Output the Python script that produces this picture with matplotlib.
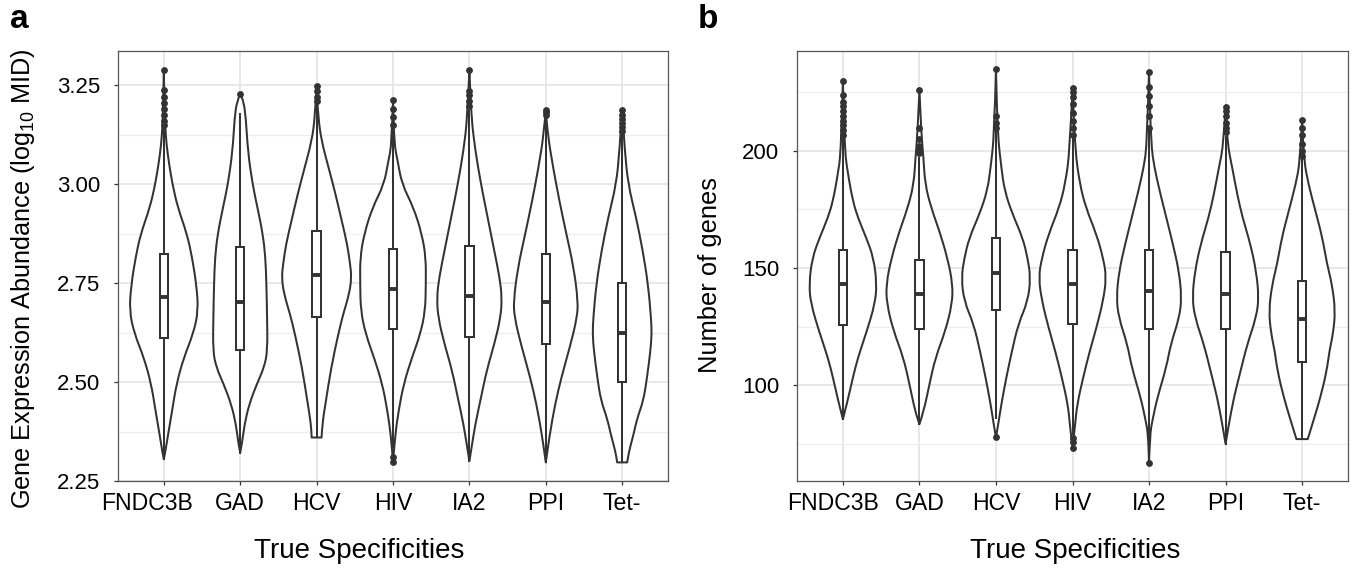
import matplotlib
matplotlib.use('Agg')
import matplotlib.pyplot as plt
from matplotlib.path import Path
from matplotlib.patches import PathPatch
from matplotlib.transforms import ScaledTranslation

plt.rcParams['font.family'] = ['Liberation Sans', 'DejaVu Sans']
plt.rcParams['mathtext.fontset'] = 'custom'
plt.rcParams['mathtext.rm'] = 'Liberation Sans'
plt.rcParams['mathtext.it'] = 'Liberation Sans:italic'

categories = ['FNDC3B', 'GAD', 'HCV', 'HIV', 'IA2', 'PPI', 'Tet-']

# ---------------- Panel a: gene expression abundance (log10 MID) ----------------
a_q1 = [2.612, 2.582, 2.665, 2.634, 2.613, 2.596, 2.501]
a_med = [2.714, 2.703, 2.770, 2.736, 2.718, 2.702, 2.624]
a_q3 = [2.823, 2.841, 2.883, 2.837, 2.843, 2.825, 2.750]
a_whislo = [2.305, 2.322, 2.360, 2.335, 2.300, 2.297, 2.297]
a_whishi = [3.140, 3.178, 3.200, 3.140, 3.185, 3.165, 3.125]
a_fliers = [
    [3.150, 3.160, 3.175, 3.190, 3.205, 3.220, 3.238, 3.288],
    [3.229],
    [3.210, 3.220, 3.235, 3.248],
    [2.299, 2.310, 3.150, 3.170, 3.190, 3.212],
    [3.198, 3.210, 3.225, 3.236, 3.289],
    [3.175, 3.182, 3.189],
    [3.135, 3.145, 3.155, 3.165, 3.175, 3.189],
]
# violin outline: value levels and half-widths (category units)
a_viol_y = [
    [2.305, 2.327, 2.369, 2.428, 2.495, 2.562, 2.621, 2.680, 2.747, 2.815, 2.874, 2.941, 3.000, 3.050, 3.100, 3.150, 3.200, 3.288],
    [2.322, 2.343, 2.394, 2.444, 2.495, 2.537, 2.579, 2.663, 2.747, 2.815, 2.874, 2.941, 3.000, 3.084, 3.168, 3.210, 3.229],
    [2.360, 2.394, 2.453, 2.537, 2.621, 2.672, 2.722, 2.764, 2.798, 2.849, 2.907, 2.975, 3.042, 3.109, 3.168, 3.248],
    [2.299, 2.369, 2.428, 2.495, 2.562, 2.621, 2.680, 2.747, 2.815, 2.874, 2.941, 3.000, 3.059, 3.101, 3.212],
    [2.300, 2.343, 2.394, 2.461, 2.529, 2.596, 2.663, 2.714, 2.764, 2.832, 2.916, 3.000, 3.084, 3.168, 3.289],
    [2.297, 2.369, 2.444, 2.512, 2.596, 2.663, 2.705, 2.790, 2.874, 2.958, 3.042, 3.126, 3.189],
    [2.297, 2.327, 2.360, 2.411, 2.453, 2.512, 2.579, 2.621, 2.663, 2.747, 2.832, 2.916, 3.000, 3.084, 3.189],
]
a_viol_hw = [
    [0.000, 0.022, 0.057, 0.109, 0.165, 0.261, 0.383, 0.452, 0.426, 0.370, 0.304, 0.183, 0.113, 0.070, 0.035, 0.017, 0.009, 0.000],
    [0.000, 0.022, 0.057, 0.117, 0.217, 0.313, 0.357, 0.352, 0.343, 0.330, 0.296, 0.226, 0.161, 0.100, 0.074, 0.043, 0.000],
    [0.065, 0.074, 0.122, 0.191, 0.283, 0.348, 0.426, 0.457, 0.439, 0.400, 0.330, 0.248, 0.157, 0.065, 0.022, 0.000],
    [0.000, 0.030, 0.074, 0.139, 0.248, 0.357, 0.422, 0.430, 0.430, 0.378, 0.270, 0.117, 0.061, 0.017, 0.000],
    [0.000, 0.035, 0.078, 0.152, 0.226, 0.326, 0.409, 0.426, 0.396, 0.326, 0.239, 0.152, 0.078, 0.026, 0.000],
    [0.000, 0.052, 0.122, 0.204, 0.326, 0.409, 0.422, 0.365, 0.270, 0.178, 0.096, 0.026, 0.000],
    [0.065, 0.091, 0.139, 0.200, 0.278, 0.326, 0.370, 0.387, 0.378, 0.339, 0.270, 0.183, 0.078, 0.035, 0.000],
]
a_major = [2.25, 2.50, 2.75, 3.00, 3.25]
a_minor = [2.375, 2.625, 2.875, 3.125]
a_ylim = (2.251, 3.337)

# ---------------- Panel b: number of genes ----------------
b_q1 = [125.7, 124.1, 132.0, 126.0, 123.8, 123.8, 109.8]
b_med = [143.1, 138.9, 148.0, 143.2, 140.2, 138.9, 128.1]
b_q3 = [157.8, 153.5, 162.8, 157.7, 157.7, 157.0, 144.4]
b_whislo = [85.4, 83.3, 86.0, 79.0, 74.0, 75.0, 76.9]
b_whishi = [205.0, 197.0, 208.0, 205.0, 208.0, 206.0, 196.5]
b_fliers = [
    [207, 209, 211, 213, 215, 217, 219, 221, 224, 229.9],
    [199, 200, 201, 202, 205, 210, 225.9],
    [77.6, 210, 212, 215, 234.9],
    [73, 75.5, 77.5, 207, 210, 213, 216, 220, 223, 225, 227],
    [66.9, 210, 215, 219, 223.5, 227.5, 233.9],
    [208, 210, 212, 215, 217, 218.8],
    [198, 200, 203, 207, 210, 213.1],
]
b_viol_y = [
    [85.4, 93.2, 103.2, 111.7, 123.1, 134.5, 143.1, 154.4, 163.0, 171.5, 178.6, 188.6, 200.0, 229.9],
    [83.3, 88.9, 100.3, 111.7, 123.1, 134.5, 143.1, 154.4, 165.8, 175.8, 185.8, 197.2, 207.0, 225.9],
    [77.6, 83.3, 91.8, 103.2, 114.6, 126.0, 135.9, 145.9, 154.4, 163.0, 172.9, 182.9, 192.9, 207.0, 234.9],
    [73.0, 83.3, 91.8, 103.2, 114.6, 124.5, 135.9, 145.9, 154.4, 164.4, 175.8, 185.8, 200.0, 227.0],
    [66.9, 79.0, 84.7, 94.7, 107.5, 117.4, 128.8, 137.4, 148.7, 160.1, 171.5, 182.9, 192.9, 202.8, 233.9],
    [74.9, 83.3, 94.7, 106.0, 117.4, 128.8, 137.4, 148.7, 160.1, 171.5, 181.5, 192.9, 202.8, 218.8],
    [76.9, 86.1, 94.7, 106.0, 114.6, 121.7, 131.7, 143.1, 151.6, 163.0, 174.4, 185.8, 195.7, 213.1],
]
b_viol_hw = [
    [0.000, 0.061, 0.130, 0.196, 0.313, 0.417, 0.443, 0.400, 0.304, 0.196, 0.130, 0.074, 0.022, 0.000],
    [0.000, 0.057, 0.130, 0.209, 0.339, 0.426, 0.435, 0.365, 0.261, 0.152, 0.074, 0.052, 0.026, 0.000],
    [0.000, 0.030, 0.070, 0.135, 0.209, 0.291, 0.417, 0.452, 0.413, 0.348, 0.217, 0.113, 0.070, 0.022, 0.000],
    [0.000, 0.035, 0.061, 0.139, 0.226, 0.313, 0.400, 0.443, 0.400, 0.313, 0.174, 0.096, 0.035, 0.000],
    [0.000, 0.013, 0.043, 0.109, 0.226, 0.283, 0.396, 0.426, 0.391, 0.313, 0.226, 0.139, 0.070, 0.026, 0.000],
    [0.000, 0.043, 0.109, 0.196, 0.283, 0.400, 0.435, 0.400, 0.326, 0.222, 0.152, 0.087, 0.026, 0.000],
    [0.074, 0.161, 0.239, 0.322, 0.357, 0.404, 0.435, 0.391, 0.326, 0.265, 0.174, 0.083, 0.026, 0.000],
]
b_major = [100, 150, 200]
b_minor = [75, 125, 175, 225]
b_ylim = (59.0, 242.7)

INK = '#333333'


def add_smooth(verts, codes, pts):
    """Append a smooth (quadratic Bezier) run through knot list pts (first already placed)."""
    n = len(pts)
    for i in range(1, n - 1):
        mid = ((pts[i][0] + pts[i + 1][0]) / 2.0, (pts[i][1] + pts[i + 1][1]) / 2.0)
        verts += [pts[i], mid]
        codes += [Path.CURVE3, Path.CURVE3]
    verts.append(pts[-1])
    codes.append(Path.LINETO)


def draw_violin(ax, pos, ys, hws):
    right = [(pos + w, y) for y, w in zip(ys, hws)]
    left = [(pos - w, y) for y, w in zip(ys[::-1], hws[::-1])]
    verts = [right[0]]
    codes = [Path.MOVETO]
    add_smooth(verts, codes, right)
    verts.append(left[0])
    codes.append(Path.LINETO)
    add_smooth(verts, codes, left)
    verts.append(right[0])
    codes.append(Path.CLOSEPOLY)
    patch = PathPatch(Path(verts, codes), facecolor='white', edgecolor=INK,
                      lw=1.45, zorder=2, joinstyle='round')
    ax.add_patch(patch)


def draw_panel(fig, ax, q1, med, q3, wlo, whi, fliers, vy, vhw, major, minor, ylim, fmt,
               first_shift_px):
    positions = list(range(1, len(categories) + 1))
    for p, ys, hws in zip(positions, vy, vhw):
        draw_violin(ax, p, ys, hws)
    stats = []
    for i in range(len(categories)):
        stats.append(dict(med=med[i], q1=q1[i], q3=q3[i], whislo=wlo[i],
                          whishi=whi[i], fliers=fliers[i], label=categories[i]))
    ax.bxp(stats, positions=positions, widths=0.11, patch_artist=True,
           showcaps=False, manage_ticks=False, zorder=3,
           boxprops=dict(facecolor='white', edgecolor=INK, lw=1.45),
           whiskerprops=dict(color=INK, lw=1.45),
           medianprops=dict(color=INK, lw=2.8, solid_capstyle='butt'),
           flierprops=dict(marker='o', markerfacecolor=INK, markeredgecolor=INK,
                           markersize=3.9, linestyle='none'))
    ax.set_xlim(0.4, len(categories) + 0.6)
    ax.set_ylim(*ylim)
    ax.set_xticks(positions)
    ax.set_xticklabels(categories)
    ax.set_yticks(major)
    ax.set_yticklabels([fmt.format(v) for v in major])
    ax.set_yticks(minor, minor=True)
    ax.set_axisbelow(True)
    ax.grid(True, which='major', color='#e5e5e5', lw=1.25)
    ax.grid(True, which='minor', axis='y', color='#eeeeee', lw=0.9)
    ax.tick_params(axis='both', which='major', length=3.2,
                   width=0.9, color='#333333', labelcolor='black')
    ax.tick_params(axis='y', which='major', pad=9.5, labelsize=16)
    ax.tick_params(axis='x', which='major', pad=4.8, labelsize=16.6)
    ax.tick_params(which='minor', length=0)
    # the first category label sits a little left of its tick in the original
    lab = ax.get_xticklabels()[0]
    lab.set_transform(lab.get_transform() +
                      ScaledTranslation(first_shift_px / 100.0, 0, fig.dpi_scale_trans))
    for sp in ax.spines.values():
        sp.set_color('#555555')
        sp.set_linewidth(0.9)


fig = plt.figure(figsize=(13.56, 5.71), dpi=100)
W, H = 1356.0, 571.0
axa = fig.add_axes([118 / W, 1 - 481 / H, 550 / W, 430 / H])
axb = fig.add_axes([797 / W, 1 - 481 / H, 551 / W, 430 / H])

draw_panel(fig, axa, a_q1, a_med, a_q3, a_whislo, a_whishi, a_fliers, a_viol_y, a_viol_hw,
           a_major, a_minor, a_ylim, '{:.2f}', -17)
draw_panel(fig, axb, b_q1, b_med, b_q3, b_whislo, b_whishi, b_fliers, b_viol_y, b_viol_hw,
           b_major, b_minor, b_ylim, '{:.0f}', -10)

# axis titles
fig.text(359 / W, 1 - 558 / H, 'True Specificities', ha='center', va='baseline', fontsize=20)
fig.text(1075 / W, 1 - 558 / H, 'True Specificities', ha='center', va='baseline', fontsize=20)
fig.text(23 / W, 1 - 279 / H, 'Gene Expression Abundance (log$_{10}$ MID)', rotation=90,
         ha='center', va='center', fontsize=18.2)
fig.text(710 / W, 1 - 275 / H, 'Number of genes', rotation=90,
         ha='center', va='center', fontsize=18.4)

# panel tags
fig.text(10 / W, 1 - 28 / H, 'a', fontsize=24, fontweight='bold', ha='left', va='baseline')
fig.text(698 / W, 1 - 28 / H, 'b', fontsize=24, fontweight='bold', ha='left', va='baseline')

fig.savefig('out.png', dpi=100)
